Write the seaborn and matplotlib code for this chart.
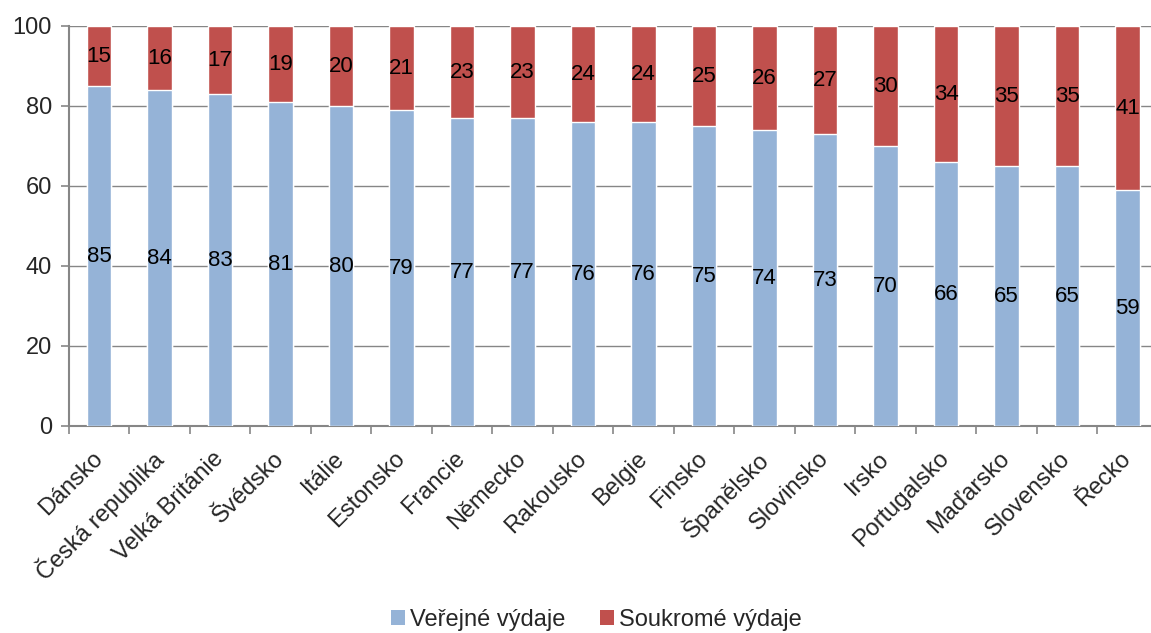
import matplotlib
matplotlib.use("Agg")
import matplotlib.pyplot as plt
import seaborn as sns
import pandas as pd
from matplotlib.patches import Patch
from matplotlib.ticker import FixedLocator

countries = ["Dánsko", "Česká republika", "Velká Británie", "Švédsko", "Itálie",
             "Estonsko", "Francie", "Německo", "Rakousko", "Belgie", "Finsko",
             "Španělsko", "Slovinsko", "Irsko", "Portugalsko", "Maďarsko",
             "Slovensko", "Řecko"]
public = [85, 84, 83, 81, 80, 79, 77, 77, 76, 76, 75, 74, 73, 70, 66, 65, 65, 59]
private = [15, 16, 17, 19, 20, 21, 23, 23, 24, 24, 25, 26, 27, 30, 34, 35, 35, 41]
series_names = ["Veřejné výdaje", "Soukromé výdaje"]

BLUE = "#95B3D7"
RED = "#C0504D"
GRID = "#868686"

sns.set_theme(style="white")
plt.rcParams["font.family"] = ["Liberation Sans", "DejaVu Sans"]

df = pd.DataFrame({"country": countries, "public": public, "private": private})
df["total"] = df["public"] + df["private"]

fig = plt.figure(figsize=(11.51, 6.33), dpi=100)
ax = fig.add_axes([68.75 / 1151, 1 - 426 / 633, 1089 / 1151, 400 / 633])

# stacked bars: full height in red, public share drawn over it in blue
sns.barplot(data=df, x="country", y="total", color=RED, saturation=1,
            width=0.4, ax=ax, zorder=2)
sns.barplot(data=df, x="country", y="public", color=BLUE, saturation=1,
            width=0.4, ax=ax, zorder=3)

for i, (p, q) in enumerate(zip(public, private)):
    ax.text(i, p / 2, f"{p}", ha="center", va="center", fontsize=16,
            color="black", zorder=4)
    ax.text(i, p + q / 2, f"{q}", ha="center", va="center", fontsize=16,
            color="black", zorder=4)

ax.set_ylim(0, 100)
ax.set_xlim(-0.5, len(countries) - 0.5)
ax.set_yticks(range(0, 101, 20))
ax.yaxis.grid(True, color=GRID, linewidth=1)
ax.set_axisbelow(True)
ax.set_xlabel("")
ax.set_ylabel("")

ax.set_xticks(range(len(countries)))
ax.set_xticklabels(countries, rotation=45, ha="right", va="center",
                   rotation_mode="anchor", fontsize=17)
ax.xaxis.set_minor_locator(FixedLocator([i - 0.5 for i in range(len(countries) + 1)]))
ax.tick_params(axis="x", which="major", length=0, pad=21)
ax.tick_params(axis="x", which="minor", length=6, width=1.2, color=GRID,
               direction="out", bottom=True)
ax.tick_params(axis="y", which="major", length=6, width=1.2, color=GRID,
               direction="out", left=True, labelsize=17, pad=6)

for side in ["top", "right"]:
    ax.spines[side].set_visible(False)
for side in ["left", "bottom"]:
    ax.spines[side].set_color(GRID)
    ax.spines[side].set_linewidth(1.5)

handles = [Patch(facecolor=BLUE, edgecolor="none"),
           Patch(facecolor=RED, edgecolor="none")]
fig.legend(handles, series_names, loc="center", bbox_to_anchor=(0.518, 1 - 620 / 633),
           ncol=2, frameon=False, fontsize=17, handlelength=0.6, handleheight=0.6,
           handletextpad=0.2, columnspacing=1.45)

fig.savefig("out.png", dpi=100)
